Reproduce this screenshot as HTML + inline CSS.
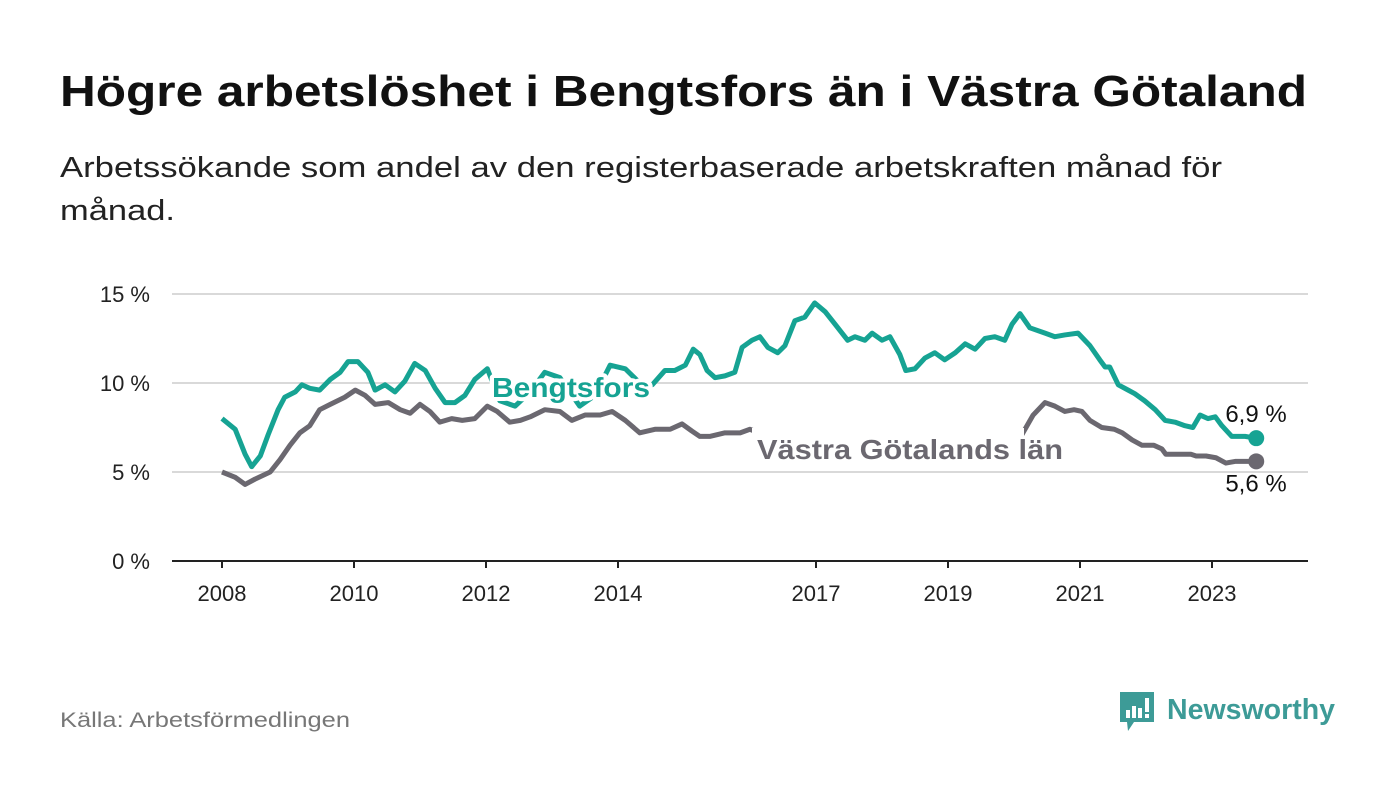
<!DOCTYPE html>
<html><head><meta charset="utf-8"><style>
body{margin:0;background:#fff;width:1400px;height:794px;overflow:hidden;font-family:"Liberation Sans",sans-serif}
</style></head><body>
<svg width="1400" height="794">
<text x="60" y="106" font-size="44" font-weight="bold" fill="#111" textLength="1247" lengthAdjust="spacingAndGlyphs">Högre arbetslöshet i Bengtsfors än i Västra Götaland</text>
<text x="60" y="177" font-size="29" fill="#222" textLength="1162" lengthAdjust="spacingAndGlyphs">Arbetssökande som andel av den registerbaserade arbetskraften månad för</text>
<text x="60" y="220" font-size="29" fill="#222" textLength="115" lengthAdjust="spacingAndGlyphs">månad.</text>
<g id="grid"></g><g id="lines"></g><g id="labels"></g>
<text x="60" y="727" font-size="21" fill="#777" textLength="290" lengthAdjust="spacingAndGlyphs">Källa: Arbetsförmedlingen</text>
<g>
<path d="M1120 692 h34 v30 h-20 l-6 9 l-1 -9 h-7 z" fill="#3d9b97"/>
<rect x="1126" y="710" width="4" height="8" fill="#fff"/><rect x="1132" y="706" width="4" height="12" fill="#fff"/><rect x="1138" y="708" width="4" height="10" fill="#fff"/><rect x="1145" y="698" width="4" height="14" fill="#fff"/><rect x="1145" y="714" width="4" height="4" fill="#fff"/>
<text x="1167" y="719" font-size="29" font-weight="bold" fill="#3d9b97" textLength="168" lengthAdjust="spacingAndGlyphs">Newsworthy</text>
</g>
</svg>
<script>
const bDates=[2008.00,2008.20,2008.35,2008.45,2008.58,2008.70,2008.85,2008.95,2009.11,2009.21,2009.33,2009.48,2009.64,2009.79,2009.91,2010.06,2010.21,2010.32,2010.47,2010.62,2010.77,2010.92,2011.08,2011.23,2011.38,2011.53,2011.68,2011.83,2012.02,2012.21,2012.44,2012.67,2012.89,2013.12,2013.42,2013.65,2013.88,2014.11,2014.33,2014.52,2014.71,2014.86,2015.02,2015.14,2015.24,2015.35,2015.47,2015.62,2015.77,2015.88,2016.03,2016.15,2016.27,2016.42,2016.53,2016.68,2016.83,2016.98,2017.14,2017.29,2017.48,2017.59,2017.74,2017.85,2018.00,2018.12,2018.27,2018.36,2018.50,2018.65,2018.80,2018.95,2019.11,2019.26,2019.41,2019.56,2019.71,2019.86,2019.97,2020.09,2020.24,2020.47,2020.62,2020.77,2020.97,2021.15,2021.30,2021.38,2021.45,2021.58,2021.73,2021.83,2021.98,2022.14,2022.29,2022.44,2022.59,2022.71,2022.82,2022.94,2023.05,2023.15,2023.30,2023.50,2023.67];
const bVals=[8.0,7.4,6.0,5.3,5.9,7.1,8.5,9.2,9.5,9.9,9.7,9.6,10.2,10.6,11.2,11.2,10.6,9.6,9.9,9.5,10.1,11.1,10.7,9.7,8.9,8.9,9.3,10.2,10.8,9.0,8.7,9.5,10.6,10.3,8.7,9.3,11.0,10.8,10.0,9.9,10.7,10.7,11.0,11.9,11.6,10.7,10.3,10.4,10.6,12.0,12.4,12.6,12.0,11.7,12.1,13.5,13.7,14.5,14.0,13.3,12.4,12.6,12.4,12.8,12.4,12.6,11.6,10.7,10.8,11.4,11.7,11.3,11.7,12.2,11.9,12.5,12.6,12.4,13.3,13.9,13.1,12.8,12.6,12.7,12.8,12.1,11.3,10.9,10.9,9.9,9.6,9.4,9.0,8.5,7.9,7.8,7.6,7.5,8.2,8.0,8.1,7.6,7.0,7.0,6.9];
const gDates=[2008.00,2008.20,2008.35,2008.50,2008.73,2008.88,2009.03,2009.18,2009.33,2009.48,2009.64,2009.86,2010.02,2010.17,2010.32,2010.52,2010.70,2010.85,2011.00,2011.15,2011.30,2011.48,2011.64,2011.83,2012.02,2012.17,2012.36,2012.52,2012.67,2012.89,2013.12,2013.30,2013.50,2013.73,2013.91,2014.11,2014.33,2014.56,2014.79,2014.97,2015.12,2015.24,2015.39,2015.62,2015.85,2016.00,2016.2,2016.5,2016.8,2017.1,2017.5,2017.9,2018.3,2018.7,2019.1,2019.5,2019.9,2020.12,2020.29,2020.47,2020.62,2020.77,2020.91,2021.03,2021.15,2021.33,2021.52,2021.64,2021.79,2021.94,2022.12,2022.24,2022.30,2022.68,2022.76,2022.91,2023.06,2023.21,2023.36,2023.52,2023.67];
const gVals=[5.0,4.7,4.3,4.6,5.0,5.7,6.5,7.2,7.6,8.5,8.8,9.2,9.6,9.3,8.8,8.9,8.5,8.3,8.8,8.4,7.8,8.0,7.9,8.0,8.7,8.4,7.8,7.9,8.1,8.5,8.4,7.9,8.2,8.2,8.4,7.9,7.2,7.4,7.4,7.7,7.3,7.0,7.0,7.2,7.2,7.4,7.1,6.9,6.7,6.6,6.4,6.1,5.9,5.8,5.9,6.1,6.4,7.1,8.2,8.9,8.7,8.4,8.5,8.4,7.9,7.5,7.4,7.2,6.8,6.5,6.5,6.3,6.0,6.0,5.9,5.9,5.8,5.5,5.6,5.6,5.6];
const yTicks=[0,5,10,15];
const xTicks=[2008,2010,2012,2014,2017,2019,2021,2023];
const NS="http://www.w3.org/2000/svg";
const X=d=>222+(d-2008)*66, Y=v=>561-v*17.8;
function mk(t,a,p){const e=document.createElementNS(NS,t);for(const k in a)e.setAttribute(k,a[k]);p.appendChild(e);return e;}
const grid=document.getElementById('grid'),lines=document.getElementById('lines'),labels=document.getElementById('labels');
yTicks.forEach(v=>{
 if(v>0){const l=mk('line',{x1:172,x2:1308,y1:Y(v),y2:Y(v),stroke:'#d9d9d9','stroke-width':2},grid);
 
 }
 const t=mk('text',{x:150,y:Y(v)+8,'text-anchor':'end','font-size':22,fill:'#222'},grid);t.textContent=v+' %';
 
 
});
const ax=mk('line',{x1:172,x2:1308,y1:561,y2:561,stroke:'#222','stroke-width':2},grid);


xTicks.forEach(d=>{
 mk('line',{x1:X(d),x2:X(d),y1:561,y2:568,stroke:'#222','stroke-width':2},grid);
 const t=mk('text',{x:X(d),y:601,'text-anchor':'middle','font-size':22,fill:'#222'},grid);t.textContent=d;
 
 
});
function line(ds,vs,c,name){
 const p=mk('path',{d:ds.map((d,i)=>(i?'L':'M')+X(d)+' '+Y(vs[i])).join(''),fill:'none',stroke:c,'stroke-width':5,'stroke-linejoin':'round'},lines);
 
 
 const n=ds.length-1;
 const dot=mk('circle',{cx:X(ds[n]),cy:Y(vs[n]),r:8,fill:c},lines);
 
 
}
line(gDates,gVals,'#6b6870','vastra-gotaland-line');
line(bDates,bVals,'#16a393','bengtsfors-line');
mk('rect',{x:752,y:428,width:272,height:42,fill:'#fff'},labels);
const b=mk('text',{x:492,y:397,'font-size':28,'font-weight':'bold',fill:'#16a393',stroke:'#fff','stroke-width':8,'paint-order':'stroke','stroke-linejoin':'round',textLength:158,lengthAdjust:'spacingAndGlyphs'},labels);b.textContent='Bengtsfors';


const g=mk('text',{x:757,y:459,'font-size':28,'font-weight':'bold',fill:'#6b6870',stroke:'#fff','stroke-width':6,'paint-order':'stroke',textLength:306,lengthAdjust:'spacingAndGlyphs'},labels);g.textContent='Västra Götalands län';


const bn=bVals.length-1,gn=gVals.length-1;
const v1=mk('text',{x:1256,y:Y(bVals[bn])-16,'text-anchor':'middle','font-size':24,fill:'#111'},labels);v1.textContent=bVals[bn].toFixed(1).replace('.',',')+' %';


const v2=mk('text',{x:1256,y:Y(gVals[gn])+30,'text-anchor':'middle','font-size':24,fill:'#111'},labels);v2.textContent=gVals[gn].toFixed(1).replace('.',',')+' %';


</script>
</body></html>
